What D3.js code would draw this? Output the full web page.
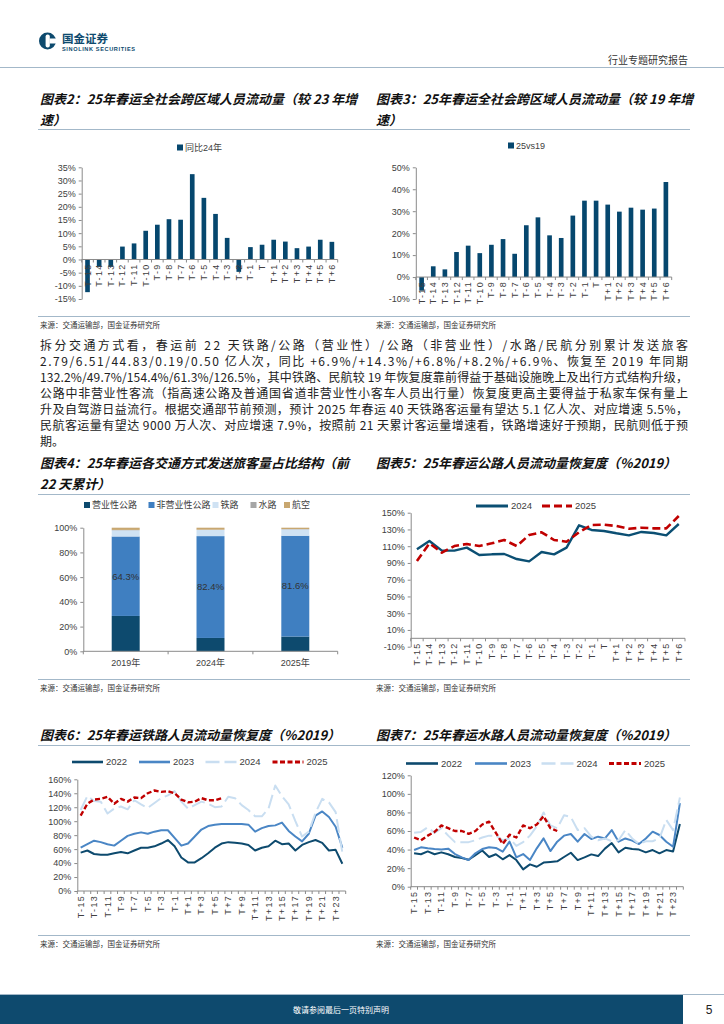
<!DOCTYPE html>
<html><head><meta charset="utf-8">
<script src="https://cdn.jsdelivr.net/npm/d3@7"></script>
<style>
body{margin:0;background:#fff;}
svg text{font-family:"Liberation Sans",Arial,"Noto Sans CJK SC",sans-serif;}
</style></head><body>
<svg id="page" width="724" height="1024" xmlns="http://www.w3.org/2000/svg"></svg>
<script>
// ---------- DATA ----------
const catsShort = ["T-15","T-14","T-13","T-12","T-11","T-10","T-9","T-8","T-7","T-6","T-5","T-4","T-3","T-2","T-1","T","T+1","T+2","T+3","T+4","T+5","T+6"];
const yoy24 = [-12.4,-2.7,-2.8,4.9,6.1,10.9,13.2,15.3,15.1,32.4,23.4,17.3,8.2,-4.7,4.7,5.6,7.5,6.8,4.3,4.9,7.5,6.7];
const vs19 = [-6.2,4.9,3.5,11.4,14.3,10.9,14.7,17.3,10.6,23.6,27.2,19.0,17.8,28.0,34.8,34.8,33.0,29.8,31.6,30.7,31.2,43.3];
const ticks2 = [-15,-10,-5,0,5,10,15,20,25,30,35];
const ticks3 = [-10,0,10,20,30,40,50];

const modeYears = ["2019年","2024年","2025年"];
const modeNames = ["营业性公路","非营业性公路","铁路","水路","航空"];
const share2019 = [28.6,64.3,5.0,0.3,1.8];
const share2024 = [10.8,82.4,5.0,0.2,1.6];
const share2025 = [11.9,81.6,5.1,0.3,1.1];
const ticks4 = [0,20,40,60,80,100];

const road2024 = [106.3,116.2,104.7,104.7,108.3,99.5,100.3,100.7,94.7,91.9,103.1,100.3,108.3,134.9,129.4,128.2,125.4,123.0,127.0,125.8,123.0,136.5];
const road2025 = [92.3,113.4,102.3,110.2,112.6,110.2,113.4,117.4,110.2,123.4,126.6,117.4,115.4,126.6,135.3,135.7,134.1,130.9,132.1,131.3,131.3,146.1];
const ticks5 = [-10,10,30,50,70,90,110,130,150];

const catsLong = ["T-15","T-14","T-13","T-12","T-11","T-10","T-9","T-8","T-7","T-6","T-5","T-4","T-3","T-2","T-1","T","T+1","T+2","T+3","T+4","T+5","T+6","T+7","T+8","T+9","T+10","T+11","T+12","T+13","T+14","T+15","T+16","T+17","T+18","T+19","T+20","T+21","T+22","T+23","T+24"];
const rail2022 = [55,58,53,52,52,54,56,54,58,62,62,64,68,73,64,48,41,41,47,54,62,68,70,69,68,66,58,62,64,72,67,68,58,66,70,73,69,58,59,39];
const rail2023 = [62,67,72,70,67,65,72,79,82,84,82,85,87,87,76,65,68,78,88,93,95,96,96,96,96,95,85,90,93,94,98,86,78,71,82,108,114,106,92,62];
const rail2024 = [116,136,129,128,111,118,121,117,130,124,119,126,133,137,143,128,118,123,128,125,120,121,135,133,123,116,107,107,118,151,136,124,100,78,85,112,132,127,113,55];
const rail2025 = [108,125,131,132,135,125,132,128,134,133,140,144,142,143,140,131,127,128,133,130,130,133];
const ticks6 = [0,20,40,60,80,100,120,140,160];

const water2022 = [36,35,38,35,37,35,32,31,29,34,39,32,35,29.5,34,28.7,18.7,24,21.5,26,26.6,27.3,32,36.6,28.7,31.6,34.8,33,41,47,37,42,40.5,40,37,39.5,36,39.5,38,67.5];
const water2023 = [39.5,42.4,41.3,40.6,40.2,41,35.2,31.6,28.7,36,40.6,42.4,41.7,37.7,48.5,31.6,35.2,28.7,41.3,52,38.4,48.5,55,56.8,48.5,56.8,51.4,53.9,52,61,48.5,52,49.6,46,52,59.3,55.7,48.5,43,90];
const water2024 = [58,59,64,58,63,55,48,48,48,50,53,55,55,50,52,44,48,55,65,80,66,63,77,75,61,63,54,50,52,49,50,61,52,46,49,49,52,72,61,96];
const water2025 = [53,50,55,59,66,63,60,60,57,60,67,70,58,46,56,53,66,63,67,76,63,60];
const ticks7 = [0,20,40,60,80,100,120];

const paragraph = [
 "拆分交通方式看，春运前 22 天铁路/公路（营业性）/公路（非营业性）/水路/民航分别累计发送旅客",
 "2.79/6.51/44.83/0.19/0.50 亿人次，同比 +6.9%/+14.3%/+6.8%/+8.2%/+6.9%、恢复至 2019 年同期",
 "132.2%/49.7%/154.4%/61.3%/126.5%，其中铁路、民航较 19 年恢复度靠前得益于基础设施晚上及出行方式结构升级，",
 "公路中非营业性客流（指高速公路及普通国省道非营业性小客车人员出行量）恢复度更高主要得益于私家车保有量上",
 "升及自驾游日益流行。根据交通部节前预测，预计 2025 年春运 40 天铁路客运量有望达 5.1 亿人次、对应增速 5.5%，",
 "民航客运量有望达 9000 万人次、对应增速 7.9%，按照前 21 天累计客运量增速看，铁路增速好于预期，民航则低于预",
 "期。"
];
const sourceText = "来源：交通运输部，国金证券研究所";

// ---------- STYLE ----------
const CJK = '"Noto Sans CJK SC","Noto Sans",sans-serif';
const NUM = '"Liberation Sans",Arial,"Noto Sans CJK SC",sans-serif';
const NAVY = "#0d4a6e", BAR = "#06476e", MID = "#4a86c5", LIGHT = "#c9def1", RED = "#c00000";
const AX = "#8a8a8a", LBL = "#404040", RULE = "#a3b8c9";

const svg = d3.select("#page");

// ---------- HEADER ----------
svg.append("circle").attr("cx",47.5).attr("cy",41).attr("r",8.5).attr("fill",NAVY);
svg.append("rect").attr("x",45.6).attr("y",34.5).attr("width",4.2).attr("height",13).attr("rx",2).attr("fill","#fff");
svg.append("rect").attr("x",49.5).attr("y",38.5).attr("width",6.5).attr("height",5).attr("fill","#fff");
svg.append("text").attr("x",62).attr("y",43).text("国金证券")
  .style("font-family",CJK).style("font-weight",700).style("font-size","11.5px").attr("fill",NAVY);
svg.append("text").attr("x",62).attr("y",51).text("SINOLINK SECURITIES").attr("textLength",73)
  .style("font-weight",700).style("font-size","5.6px").attr("fill",NAVY);
svg.append("text").attr("x",688).attr("y",64).attr("text-anchor","end").text("行业专题研究报告")
  .style("font-family",CJK).style("font-size","10px").attr("fill","#333");
svg.append("line").attr("x1",0).attr("x2",724).attr("y1",67.5).attr("y2",67.5).attr("stroke",RULE).attr("stroke-width",1);

// ---------- HELPERS ----------
function title(x, y, lines){
  lines.forEach((t,i)=>{
    svg.append("text").attr("x",x).attr("y",y+i*21).text(t)
      .style("font-family",CJK).style("font-weight",700).style("font-style","italic")
      .style("font-size","13px").attr("fill","#111");
  });
}
function rule(y){
  svg.append("line").attr("x1",38).attr("x2",690).attr("y1",y).attr("y2",y).attr("stroke",RULE).attr("stroke-width",1);
}
function source(x,y){
  svg.append("text").attr("x",x).attr("y",y).text(sourceText)
    .style("font-family",CJK).style("font-size","7.5px").attr("fill","#333");
}
function yAxis(x0, y, ticks){
  const g = svg.append("g").attr("transform",`translate(${x0},0)`)
    .call(d3.axisLeft(y).tickValues(ticks).tickFormat(d=>d+"%").tickSize(3).tickSizeOuter(0).tickPadding(3));
  g.select(".domain").attr("stroke",AX);
  g.selectAll(".tick line").attr("stroke",AX);
  g.selectAll(".tick text").style("font-family",NUM).style("font-size","9px").attr("fill",LBL);
  return g;
}
function xCatAxis(x, yLine, cats, every){
  const g = svg.append("g");
  const r = x.range(), step = x.step();
  g.append("line").attr("x1",r[0]).attr("x2",r[1]).attr("y1",yLine).attr("y2",yLine).attr("stroke",AX);
  for(let i=0;i<=cats.length;i++){
    const xx = r[0]+i*step;
    g.append("line").attr("x1",xx).attr("x2",xx).attr("y1",yLine).attr("y2",yLine+3).attr("stroke",AX);
  }
  cats.forEach((c,i)=>{
    if(i%every) return;
    const cx = x(c)+x.bandwidth()/2;
    g.append("text").attr("transform",`translate(${cx},${yLine+4}) rotate(-90)`)
      .attr("text-anchor","end").attr("dy","0.34em").text(c)
      .style("font-family",NUM).style("font-size","9px").style("letter-spacing","1.3px").attr("fill",LBL);
  });
}
function barChart(o){
  const x = d3.scaleBand().domain(o.cats).range([o.x0,o.x1]).paddingInner(0.6).paddingOuter(0.3);
  const y = d3.scaleLinear().domain(o.dom).range([o.yBot,o.yTop]);
  yAxis(o.x0, y, o.ticks);
  svg.append("g").selectAll("rect").data(o.vals).join("rect")
    .attr("x",(d,i)=>x(o.cats[i])).attr("width",x.bandwidth())
    .attr("y",d=>y(Math.max(0,d))).attr("height",d=>Math.abs(y(d)-y(0)))
    .attr("fill",BAR);
  const xl = d3.scaleBand().domain(o.cats).range([o.x0,o.x1]).padding(0);
  xCatAxis(xl, y(0), o.cats, 1);
  svg.append("rect").attr("x",o.lx).attr("y",o.ly-3).attr("width",6).attr("height",6).attr("fill",BAR);
  svg.append("text").attr("x",o.lx+8).attr("y",o.ly+3.3).text(o.legend)
    .style("font-size","9px").attr("fill",LBL);
}
function lineChart(o){
  const x = d3.scaleBand().domain(o.cats).range([o.x0,o.x1]).padding(0);
  const y = d3.scaleLinear().domain(o.dom).range([o.yBot,o.yTop]);
  yAxis(o.x0, y, o.ticks);
  xCatAxis(x, y(o.axisAt), o.cats, o.every);
  const line = d3.line().x((d,i)=>x(o.cats[i])+x.bandwidth()/2).y(d=>y(d)).curve(d3.curveLinear);
  o.series.forEach(s=>{
    svg.append("path").attr("d",line(s.vals)).attr("fill","none").attr("stroke",s.color)
      .attr("stroke-width",s.w).attr("stroke-dasharray",s.dash||null).attr("stroke-linejoin","round");
  });
  o.series.forEach(s=>{
    svg.append("line").attr("x1",s.lx).attr("x2",s.lx+s.ll).attr("y1",o.ly).attr("y2",o.ly)
      .attr("stroke",s.color).attr("stroke-width",s.w+0.6).attr("stroke-dasharray",s.dash||null);
    svg.append("text").attr("x",s.lx+s.ll+3).attr("y",o.ly+3.3).text(s.name)
      .style("font-size","9.5px").attr("fill",LBL);
  });
}

// ---------- CHART 2 & 3 ----------
title(40,104,["图表2：25年春运全社会跨区域人员流动量（较 23 年增","速）"]);
title(376,104,["图表3：25年春运全社会跨区域人员流动量（较 19 年增","速）"]);
rule(129.5);
barChart({cats:catsShort, vals:yoy24, x0:81.7, x1:337.7, yTop:167.3, yBot:299, dom:[-15,35], ticks:ticks2,
  legend:"同比24年", lx:177, ly:147.5});
barChart({cats:catsShort, vals:vs19, x0:415.8, x1:671.7, yTop:167.3, yBot:299, dom:[-10,50], ticks:ticks3,
  legend:"25vs19", lx:508, ly:145.5});
rule(316.5);
source(40,328); source(376,328);

// ---------- PARAGRAPH ----------
paragraph.forEach((t,i)=>{
  const tx = svg.append("text").attr("x",40).attr("y",349.5+i*16).text(t)
    .style("font-family",CJK).style("font-size","12px").attr("fill","#222");
  if(i<paragraph.length-1) tx.attr("textLength",648).attr("lengthAdjust","spacing");
});

// ---------- CHART 4 ----------
title(40,468,["图表4：25年春运各交通方式发送旅客量占比结构（前","22 天累计）"]);
title(376,468,["图表5：25年春运公路人员流动量恢复度（%2019）"]);
rule(494.5);
(function(){
  const rows = modeYears.map((yr,i)=>{
    const s = [share2019,share2024,share2025][i];
    const r = {year:yr}; modeNames.forEach((m,j)=>r[m]=s[j]); return r;
  });
  const colors = [NAVY,"#3f7fc1","#cfe2f3","#a6a6a6","#c8a770"];
  const x = d3.scaleBand().domain(modeYears).range([83.3,337.7]).paddingInner(0.67).paddingOuter(0.335);
  const y = d3.scaleLinear().domain([0,100]).range([651.3,527.7]);
  yAxis(83.3, y, ticks4);
  const stack = d3.stack().keys(modeNames)(rows);
  stack.forEach((layer,k)=>{
    svg.append("g").selectAll("rect").data(layer).join("rect")
      .attr("x",d=>x(d.data.year)).attr("width",x.bandwidth())
      .attr("y",d=>y(d[1])).attr("height",d=>y(d[0])-y(d[1])).attr("fill",colors[k]);
  });
  stack[1].forEach(d=>{
    svg.append("text").attr("x",x(d.data.year)+x.bandwidth()/2).attr("y",y((d[0]+d[1])/2)+3.3)
      .attr("text-anchor","middle").text(d.data["非营业性公路"].toFixed(1)+"%")
      .style("font-size","9.5px").attr("fill","#333");
  });
  const xl = d3.scaleBand().domain(modeYears).range([83.3,337.7]).padding(0);
  svg.append("line").attr("x1",83.3).attr("x2",337.7).attr("y1",651.3).attr("y2",651.3).attr("stroke",AX);
  for(let i=0;i<=3;i++){ const xx=83.3+i*xl.step();
    svg.append("line").attr("x1",xx).attr("x2",xx).attr("y1",651.3).attr("y2",654.3).attr("stroke",AX); }
  modeYears.forEach(yr=>{
    svg.append("text").attr("x",x(yr)+x.bandwidth()/2).attr("y",666).attr("text-anchor","middle").text(yr)
      .style("font-size","9px").attr("fill",LBL);
  });
  const lxs = [84,148.5,212.5,250.5,284];
  modeNames.forEach((m,j)=>{
    svg.append("rect").attr("x",lxs[j]).attr("y",502).attr("width",6).attr("height",6).attr("fill",colors[j]);
    svg.append("text").attr("x",lxs[j]+8).attr("y",508.3).text(m).style("font-size","9px").attr("fill",LBL);
  });
})();

// ---------- CHART 5 ----------
lineChart({cats:catsShort, x0:410.7, x1:685, yTop:512.7, yBot:646.7, dom:[-10,150], ticks:ticks5, axisAt:0, every:1, ly:506,
  series:[
    {name:"2024", vals:road2024, color:"#0b4f73", w:2.4, lx:476, ll:32},
    {name:"2025", vals:road2025, color:RED, w:2.6, dash:"8,4", lx:542, ll:30}
  ]});
rule(679.5);
source(40,691); source(376,691);

// ---------- CHART 6 & 7 ----------
title(40,740,["图表6：25年春运铁路人员流动量恢复度（%2019）"]);
title(376,740,["图表7：25年春运水路人员流动量恢复度（%2019）"]);
rule(745.5);
lineChart({cats:catsLong, x0:77.3, x1:345.7, yTop:779.3, yBot:891, dom:[0,160], ticks:ticks6, axisAt:0, every:2, ly:762,
  series:[
    {name:"2022", vals:rail2022, color:NAVY, w:2, lx:72, ll:31},
    {name:"2023", vals:rail2023, color:MID, w:2, lx:139, ll:31},
    {name:"2024", vals:rail2024, color:LIGHT, w:2, dash:"14,5", lx:205.5, ll:31},
    {name:"2025", vals:rail2025, color:RED, w:2.4, dash:"5,2.5", lx:272.5, ll:31}
  ]});
lineChart({cats:catsLong, x0:410.7, x1:683.3, yTop:775.3, yBot:886.7, dom:[0,120], ticks:ticks7, axisAt:0, every:2, ly:763.5,
  series:[
    {name:"2022", vals:water2022, color:NAVY, w:2, lx:406, ll:32},
    {name:"2023", vals:water2023, color:MID, w:2, lx:475, ll:32},
    {name:"2024", vals:water2024, color:LIGHT, w:2, dash:"14,5", lx:541.5, ll:32},
    {name:"2025", vals:water2025, color:RED, w:2.4, dash:"5,2.5", lx:609, ll:32}
  ]});
rule(935.5);
source(40,947); source(376,947);

// ---------- FOOTER ----------
svg.append("line").attr("x1",0).attr("x2",724).attr("y1",994.5).attr("y2",994.5).attr("stroke",RULE);
svg.append("rect").attr("x",0).attr("y",995).attr("width",683).attr("height",29).attr("fill","#0e4a6e");
svg.append("text").attr("x",341).attr("y",1012.5).attr("text-anchor","middle").text("敬请参阅最后一页特别声明")
  .style("font-family",CJK).style("font-size","8px").attr("fill","#fff");
svg.append("text").attr("x",709).attr("y",1014).attr("text-anchor","middle").text("5")
  .style("font-size","12px").attr("fill","#222");
</script>
</body></html>
